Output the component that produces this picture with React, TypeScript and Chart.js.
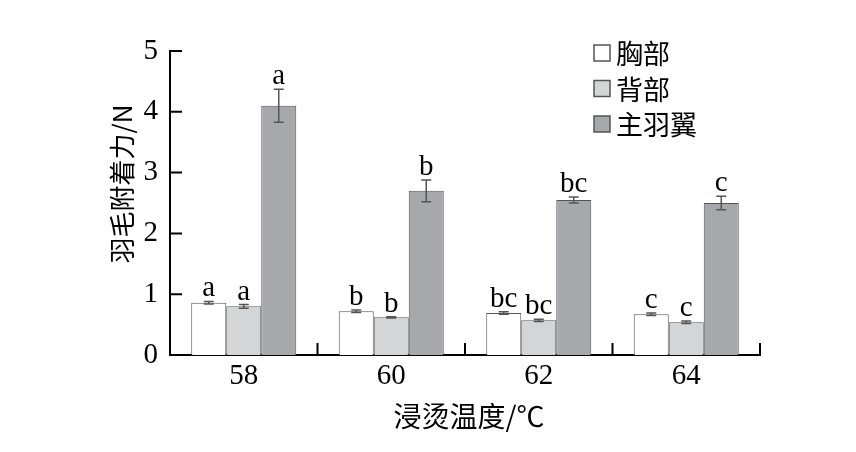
import React, { useEffect, useRef } from "react";
import { Chart, registerables } from "chart.js";

Chart.register(...registerables);

const temps = ["58", "60", "62", "64"];
const seriesNames = ["胸部", "背部", "主羽翼"];

const breast = [0.86, 0.72, 0.69, 0.67];
const back = [0.8, 0.62, 0.57, 0.54];
const wing = [4.1, 2.7, 2.55, 2.5];

const breastErr = [0.02, 0.02, 0.02, 0.02];
const backErr = [0.03, 0.01, 0.02, 0.02];
const wingErr = [0.27, 0.18, 0.05, 0.11];

const breastSig = ["a", "b", "bc", "c"];
const backSig = ["a", "b", "bc", "c"];
const wingSig = ["a", "b", "bc", "c"];

const yTicks = [0, 1, 2, 3, 4, 5];

const fills = ["#ffffff", "#d4d5d7", "#a7a8ab"];

const errors = [breastErr, backErr, wingErr];
const letters = [breastSig, backSig, wingSig];

const SERIF = "'Liberation Serif', 'DejaVu Serif', serif";
const CJK = "'Noto Sans CJK SC', 'Noto Sans', sans-serif";

const decorations = {
  id: "decorations",
  afterDatasetsDraw(chart: any) {
    const { ctx, chartArea } = chart;
    const yScale = chart.scales.y;

    ctx.save();

    // error bars + letters
    chart.data.datasets.forEach((ds: any, di: number) => {
      const meta = chart.getDatasetMeta(di);
      meta.data.forEach((bar: any, i: number) => {
        const v = ds.data[i];
        const e = errors[di][i];
        const x = bar.x;
        const yTop = yScale.getPixelForValue(v + e);
        const yBot = yScale.getPixelForValue(v - e);
        ctx.strokeStyle = "#555";
        ctx.lineWidth = 1.5;
        ctx.beginPath();
        ctx.moveTo(x, yTop);
        ctx.lineTo(x, yBot);
        ctx.moveTo(x - 5, yTop);
        ctx.lineTo(x + 5, yTop);
        ctx.moveTo(x - 5, yBot);
        ctx.lineTo(x + 5, yBot);
        ctx.stroke();

        ctx.fillStyle = "#000";
        ctx.font = `29px ${SERIF}`;
        ctx.textAlign = "center";
        ctx.textBaseline = "alphabetic";
        ctx.fillText(letters[di][i], x, yTop - 5);
      });
    });

    // inward ticks
    ctx.strokeStyle = "#000";
    ctx.lineWidth = 2;
    ctx.beginPath();
    yTicks.forEach((t) => {
      const y = yScale.getPixelForValue(t);
      ctx.moveTo(chartArea.left, y);
      ctx.lineTo(chartArea.left + 12, y);
    });
    const step = (chartArea.right - chartArea.left) / temps.length;
    for (let i = 1; i <= temps.length; i++) {
      const x = chartArea.left + step * i;
      ctx.moveTo(x, chartArea.bottom);
      ctx.lineTo(x, chartArea.bottom - 12);
    }
    ctx.stroke();

    // legend
    chart.data.datasets.forEach((ds: any, di: number) => {
      const cy = 53 + di * 35.5;
      ctx.fillStyle = ds.backgroundColor;
      ctx.fillRect(594, cy - 8, 16, 16);
      ctx.strokeStyle = "#555";
      ctx.lineWidth = 1.5;
      ctx.strokeRect(594, cy - 8, 16, 16);
      ctx.fillStyle = "#000";
      ctx.font = `27px ${CJK}`;
      ctx.textAlign = "left";
      ctx.textBaseline = "middle";
      ctx.fillText(ds.label, 616, cy + 1);
    });

    // axis titles
    ctx.fillStyle = "#000";
    ctx.font = `28px ${CJK}`;
    ctx.textAlign = "center";
    ctx.textBaseline = "middle";
    ctx.fillText("浸烫温度/℃", (chartArea.left + chartArea.right) / 2 + 4, 416);

    ctx.save();
    ctx.translate(122, 184);
    ctx.rotate(-Math.PI / 2);
    ctx.font = `26px ${CJK}`;
    ctx.fillText("羽毛附着力/N", 0, 0);
    ctx.restore();

    ctx.restore();
  },
};

const App = () => {
  const canvasRef = useRef<HTMLCanvasElement>(null);
  const chartRef = useRef<Chart | null>(null);

  useEffect(() => {
    if (!canvasRef.current) return;

    chartRef.current?.destroy();

    const values = [breast, back, wing];

    chartRef.current = new Chart(canvasRef.current, {
      type: "bar",
      data: {
        labels: temps,
        datasets: seriesNames.map((name, i) => ({
          label: name,
          data: values[i],
          backgroundColor: fills[i],
          borderColor: "#555",
          borderWidth: 1,
          categoryPercentage: 0.712,
          barPercentage: 1,
        })),
      },
      options: {
        responsive: true,
        maintainAspectRatio: false,
        animation: false,
        layout: {
          padding: { left: 0, right: 96, top: 51, bottom: 0 },
        },
        plugins: {
          legend: { display: false },
          tooltip: { enabled: false },
        },
        scales: {
          x: {
            grid: { display: false, drawTicks: false },
            border: { display: true, color: "#000", width: 2 },
            ticks: {
              color: "#000",
              padding: 4,
              font: { family: SERIF, size: 29 },
            },
            afterFit: (s: any) => {
              s.height = 97;
            },
          },
          y: {
            min: 0,
            max: 5,
            grid: { display: false, drawTicks: false },
            border: { display: true, color: "#000", width: 2 },
            ticks: {
              stepSize: 1,
              color: "#000",
              padding: 12,
              font: { family: SERIF, size: 29 },
            },
            afterFit: (s: any) => {
              s.width = 170;
            },
          },
        },
      },
      plugins: [decorations],
    });

    return () => {
      chartRef.current?.destroy();
    };
  }, []);

  return (
    <div
      style={{
        position: "absolute",
        left: 0,
        top: 0,
        width: 856,
        height: 452,
        background: "#fff",
      }}
    >
      <canvas ref={canvasRef} />
    </div>
  );
};

export default App;
